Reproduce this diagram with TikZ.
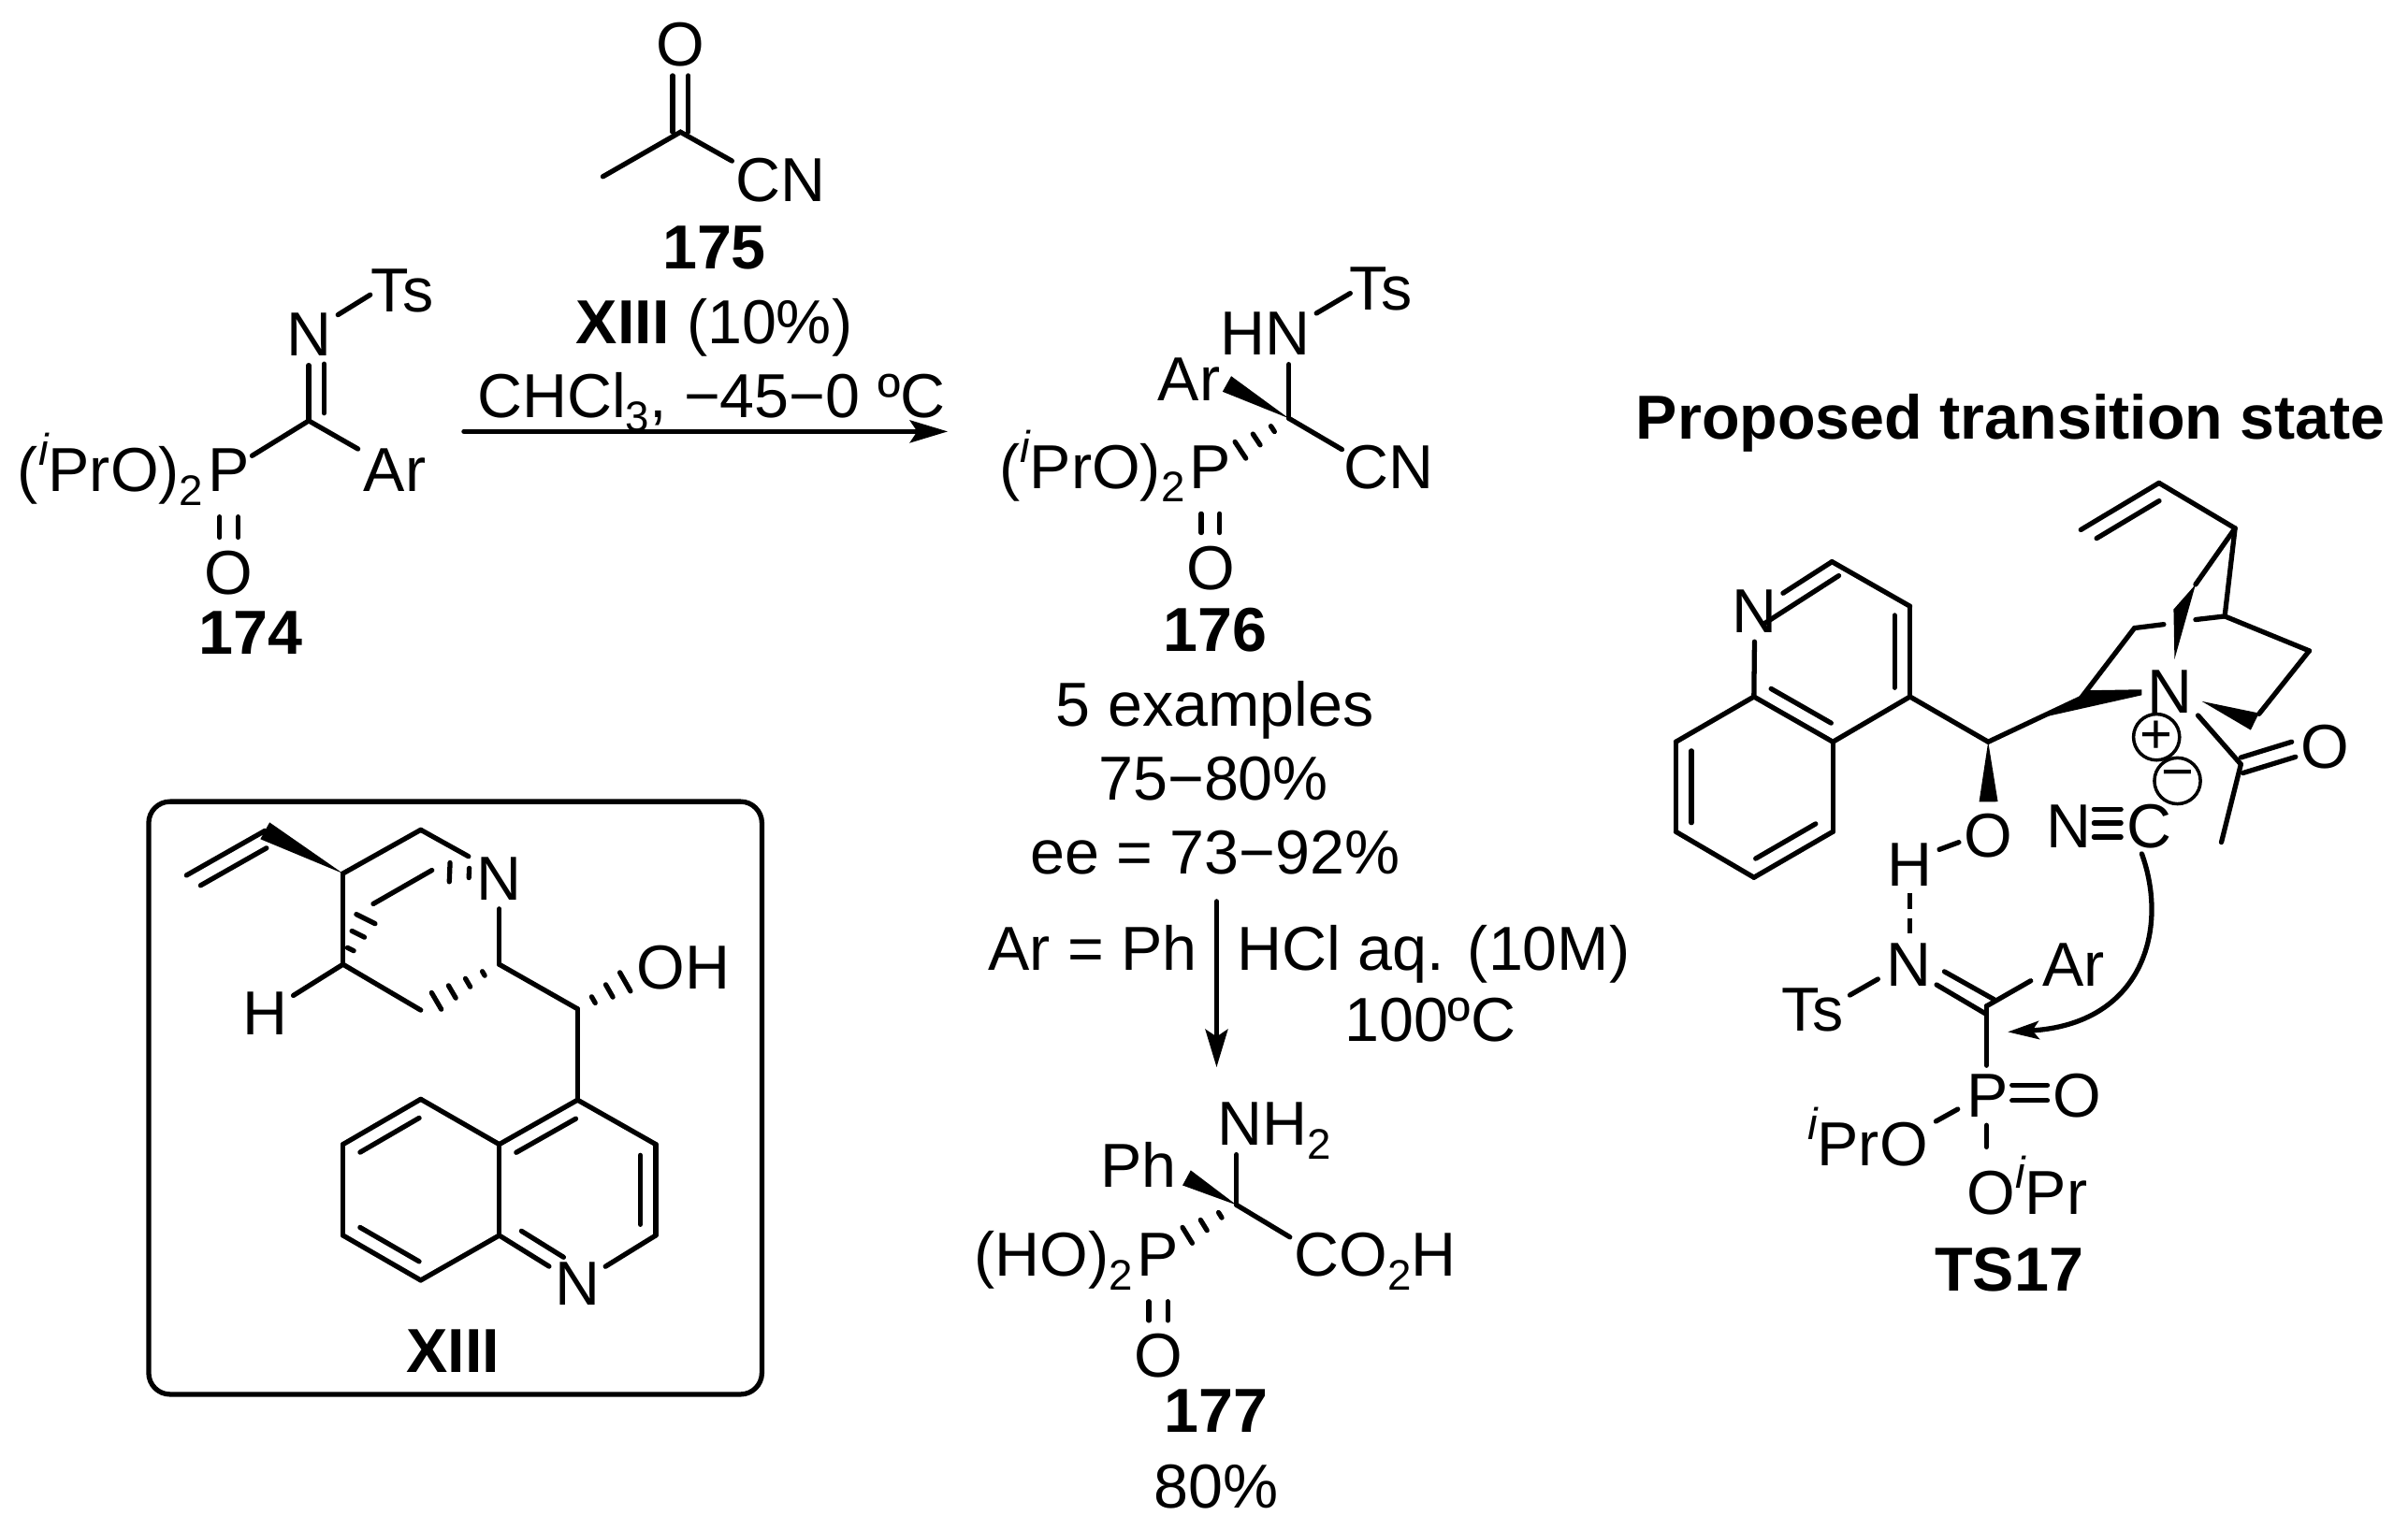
\documentclass[tikz,border=0pt]{standalone}
\usepackage{fontspec}
\setmainfont{Liberation Sans}
\usetikzlibrary{arrows.meta,calc}
\newcommand{\chemsize}{\fontsize{18.9}{22}\selectfont}
\newcommand{\ipr}{\smash{\raisebox{.42em}{\fontsize{13.5}{14}\selectfont\itshape i}}}
\newcommand{\sbs}[1]{\smash{\raisebox{-.22em}{\fontsize{13}{14}\selectfont #1}}}
% narrow end, wide end, full width
\newcommand{\wedgebond}[3]{\fill (#1) -- ($(#2)!#3/2!90:(#1)$) -- ($(#2)!#3/2!-90:(#1)$) -- cycle;}
% narrow end, wide end, number of marks, full width in pt
\newcommand{\hashbond}[4]{
  \foreach \k in {1,...,#3}{
    \pgfmathsetmacro\t{\k/(#3+1)}
    \pgfmathsetmacro\w{\t*#4/2}
    \coordinate (hm) at ($(#1)!\t!(#2)$);
    \draw ($(hm)!\w pt!90:(#2)$) -- ($(hm)!\w pt!-90:(#2)$);
  }}
% second line of a double bond: ends, offset, part cut off at each end
\newcommand{\innerbond}[4]{\draw ($(#1)!#4!(#2)!#3!90:(#2)$) -- ($(#2)!#4!(#1)!#3!-90:(#1)$);}
\tikzset{
  atom/.style={anchor=base,inner xsep=1pt,inner ysep=2pt},
  patom/.style={anchor=base,inner xsep=0pt,inner ysep=2pt},
  txt/.style={anchor=base,inner sep=0pt},
  pre/.style={anchor=base east,inner sep=0pt},
  cmpd/.style={anchor=base,inner sep=0pt,font=\chemsize\bfseries},
  pbond/.style={shorten <=5pt,shorten >=1.4pt},
  rxn/.style={-{Stealth[length=11.5pt,width=6.8pt,inset=2.2pt]}},
  push/.style={-{Stealth[length=9.5pt,width=5.5pt,inset=2pt]}},
  hbond/.style={dash pattern=on 4.8pt off 2.8pt,line cap=butt},
  charge/.style={circle,draw,line width=1pt,minimum size=14pt,inner sep=0pt,font=\fontsize{17}{18}\selectfont}
}
\begin{document}
\begin{tikzpicture}[x=0.01642cm,y=-0.01642cm,line width=1.5pt,line cap=round,every node/.style={font=\chemsize}]
\useasboundingbox (0,0) rectangle (1567.6,996.3);

% 175
\coordinate (me175) at (392.5,115);
\coordinate (c175) at (443,86);
\coordinate (e175) at (476.5,104.8);
\node[atom] (o175) at (443,43) {O};
\node[txt] (cn175) at (508,131) {CN};
\draw (me175) -- (c175) -- (e175);
\draw ([xshift=-2.4pt]c175) -- ([xshift=-2.4pt]o175.south);
\draw ([xshift=2.4pt]c175) -- ([xshift=2.4pt]o175.south);
\node[cmpd] (l175) at (465,175) {175};
\node[txt] (cat175) at (465,224) {\textbf{XIII} (10\%)};
\node[txt] (cond175) at (463,272) {CHCl\sbs{3}, −45−0 ºC};
\coordinate (a1s) at (302,281);
\coordinate (a1e) at (617,281);
\draw[rxn] (a1s) -- (a1e);

% 174
\coordinate (c174) at (201,274);
\coordinate (n174a) at (211,237);
\coordinate (n174b) at (211,269);
\coordinate (t174a) at (220,205);
\coordinate (t174b) at (241,192);
\node[atom] (n174) at (201,232) {N};
\node[txt] (ts174) at (262,203) {Ts};
\node[atom] (ar174) at (257,320) {Ar};
\node[patom] (p174) at (149,320) {P};
\node[pre] (pre174) at (p174.base west) {(\ipr PrO)\sbs{2}};
\node[atom] (o174) at (149,387) {O};
\draw (c174) -- (n174);
\draw (n174a) -- (n174b);
\draw (t174a) -- (t174b);
\draw (c174) -- (p174);
\draw (c174) -- (ar174);
\draw[pbond] ([xshift=-2.8pt]p174.south) -- ([xshift=-2.8pt]o174.north);
\draw[pbond] ([xshift=2.8pt]p174.south) -- ([xshift=2.8pt]o174.north);
\node[cmpd] (l174) at (163,426) {174};

% 176
\coordinate (c176) at (839,272.4);
\coordinate (w176) at (798.7,250);
\coordinate (h176) at (797,300);
\coordinate (e176) at (873.6,292.7);
\coordinate (t176a) at (857,204);
\coordinate (t176b) at (879,191);
\node[atom] (hn176) at (823.7,231.4) {HN};
\node[txt] (ts176) at (899,202) {Ts};
\node[txt] (ar176) at (774,261) {Ar};
\node[txt] (cn176) at (904,318) {CN};
\node[patom] (p176) at (788,318) {P};
\node[pre] (pre176) at (p176.base west) {(\ipr PrO)\sbs{2}};
\node[atom] (o176) at (788,384) {O};
\draw (c176) -- (c176 |- hn176.south);
\draw (t176a) -- (t176b);
\draw (c176) -- (e176);
\wedgebond{c176}{w176}{5.4pt}
\hashbond{c176}{h176}{3}{8}
\draw[pbond] ([xshift=-2.8pt]p176.south) -- ([xshift=-2.8pt]o176.north);
\draw[pbond] ([xshift=2.8pt]p176.south) -- ([xshift=2.8pt]o176.north);
\node[cmpd] (l176) at (791,424) {176};
\node[txt] (ex176) at (791,473) {5 examples};
\node[txt] (yd176) at (790,521) {75−80\%};
\node[txt] (ee176) at (791,569) {ee = 73−92\%};

% 176 to 177
\coordinate (a2s) at (792,587);
\coordinate (a2e) at (792,695);
\draw[rxn] (a2s) -- (a2e);
\node[txt,anchor=base east] (arph) at (781,632) {Ar = Ph};
\node[txt,anchor=base west] (hcl) at (804,632) {HCl aq. (10M)};
\node[txt] (temp) at (931,678) {100ºC};

% 177
\coordinate (c177) at (805,784.7);
\coordinate (w177) at (772.5,767);
\coordinate (h177) at (762.3,811);
\coordinate (e177) at (839.7,805.6);
\node[atom,anchor=base west] (nh177) at (789,746) {NH\sbs{2}};
\node[txt] (ph177) at (741,773) {Ph};
\node[txt,anchor=base west] (co177) at (841,831) {CO\sbs{2}H};
\node[patom] (p177) at (754,831) {P};
\node[pre] (pre177) at (p177.base west) {(HO)\sbs{2}};
\node[atom] (o177) at (754,897) {O};
\draw (c177) -- (c177 |- nh177.south);
\draw (c177) -- (e177);
\wedgebond{c177}{w177}{5.2pt}
\hashbond{c177}{h177}{3}{7.5}
\draw[pbond] ([xshift=-2.9pt]p177.south) -- ([xshift=-2.9pt]o177.north);
\draw[pbond] ([xshift=2.9pt]p177.south) -- ([xshift=2.9pt]o177.north);
\node[cmpd] (l177) at (791.5,933) {177};
\node[txt] (yd177) at (791.5,982) {80\%};

% XIII
\draw[rounded corners=6.5pt] (96.8,522) rectangle (496,908);
\foreach \nm/\xx/\yy in {v1/121.4/570,v2/172.5/541,c4/223.3/568.8,c3/223.3/628,
  top/273.9/540.4,topn/305/557.7,bk1/243/588.6,bk2/281.2/566.7,
  low/273.9/657.8,c8/325/628,c9/376/657,
  q4/376/716.3,q3/426.9/745.2,q2/426.9/804.5,q8a/325/804.5,q4a/325/745.2,
  q5/273.9/715.8,q6/223.3/745.2,q7/223.3/804.5,q8/273.9/833.7,
  hend/417.3/633.5,hc1/318/569,hc2/280.1/567.5}
  \coordinate (\nm) at (\xx,\yy);
\node[atom] (n13) at (325,586) {N};
\node[atom] (n13q) at (375.8,850) {N};
\node[atom] (h13) at (172.6,673.7) {H};
\node[txt,anchor=base west] (oh13) at (413,644) {OH};
\draw (v1) -- (v2);
\innerbond{v1}{v2}{-4.8pt}{.08}
\wedgebond{c4}{v2}{5.8pt}
\foreach \a/\b in {c4/c3,c4/top,top/topn,bk1/bk2,c3/low,c8/c9,c9/q4,q4/q3,q3/q2,q8a/q4a,q4a/q4,q4a/q5,q5/q6,q6/q7,q7/q8,q8/q8a}
  \draw (\a) -- (\b);
\draw (c3) -- (h13);
\draw (c8) -- (n13);
\draw (q2) -- (n13q);
\draw (q8a) -- (n13q);
\hashbond{c3}{bk1}{3}{8.5}
\hashbond{hc1}{hc2}{2}{8.7}
\hashbond{c8}{low}{4}{7.3}
\hashbond{c9}{hend}{3}{8.7}
\innerbond{q4a}{q4}{-4.7pt}{.12}
\innerbond{q3}{q2}{-4.7pt}{.12}
\innerbond{q5}{q6}{4.7pt}{.12}
\innerbond{q7}{q8}{4.7pt}{.12}
\draw ($(q8a)!.18!(n13q)!4.7pt!90:(n13q)$) -- ($(q8a)!.72!(n13q)!4.7pt!90:(n13q)$);
\node[cmpd] (l13) at (295,894) {XIII};

% TS17
\node[cmpd] (title) at (1309,286) {Proposed transition state};
\foreach \nm/\xx/\yy in {t2/1192.6/365.8,t3/1243.4/394.8,t4/1243.4/453.7,t4a/1193.2/483.1,
  t8a/1141.8/453.7,t8/1091/483.1,t7/1091/541.6,t6/1141.8/571.4,t5/1193.2/541.6,
  t9/1294.3/483.1,tc8/1354.6/454.7,tc7/1389.5/409,tc7b/1408.6/406.6,
  tc4a/1429.3/403.5,tc4/1448.3/401.3,tc5/1503.3/423.8,tc6/1470.6/464.9,
  tc3/1455/344,tv2/1405.5/314.5,tv1/1354.6/345,tbr/1429.3/380.6,
  tac/1458.8/497.7,tme/1446.1/548.5,nac/1430.9/465.9}
  \coordinate (\nm) at (\xx,\yy);
\node[atom] (tn1) at (1142.4,412) {N};
\foreach \a/\b in {t2/t3,t3/t4,t4/t4a,t4a/t8a,t8a/t8,t8/t7,t7/t6,t6/t5,t5/t4a,t4/t9,t9/tc8,tc8/tc7,tc7/tc7b,tc4a/tc4,tc4/tc5,tc5/tc6,tc3/tv2,tv2/tv1,tc3/tc4,tc3/tbr,nac/tac,tac/tme}
  \draw (\a) -- (\b);
\draw (t2) -- (tn1);
\draw (t8a) -- (tn1);
\innerbond{t2}{tn1}{4.7pt}{.02}
\innerbond{t3}{t4}{-4.7pt}{.1}
\innerbond{t8a}{t4a}{4.7pt}{.12}
\innerbond{t8}{t7}{4.7pt}{.1}
\innerbond{t6}{t5}{4.7pt}{.12}
\innerbond{tv2}{tv1}{4.7pt}{.1}
% wedges of the cage
\fill (1330.8,466.9) -- (1394.3,452.7) -- (1394.3,449) -- (1359.4,449.6) -- (1354.6,454.7) -- cycle;
\fill (1415.6,429.3) -- (1429.3,380.6) -- (1415,396.8) -- cycle;
\fill (1433.4,456.7) -- (1470.6,464.4) -- (1465.2,475.4) -- cycle;
\node[atom] (tn2) at (1412.8,464.2) {N};
\node[charge] (tplus) at (1403.9,480) {+};
\node[charge] (tminus) at (1417.5,508.5) {−};
\coordinate (co1a) at (1458.8,493.3);
\coordinate (co1b) at (1491.9,483.1);
\coordinate (co2a) at (1460.1,503.4);
\coordinate (co2b) at (1494.4,492.9);
\draw (co1a) -- (co1b);
\draw (co2a) -- (co2b);
\node[txt] (to2) at (1513.4,500) {O};
% cyanide
\node[txt] (tcnn) at (1346.7,552) {N};
\node[txt] (tcnc) at (1399,552) {C};
\foreach \yy in {527,536,545}{
  \coordinate (tr1) at (1363.2,\yy);
  \coordinate (tr2) at (1380.7,\yy);
  \draw (tr1) -- (tr2);
}
% alcohol and imine
\coordinate (wo) at (1294.5,522.1);
\wedgebond{t9}{wo}{5.7pt}
\node[txt] (to1) at (1294.3,558) {O};
\node[atom] (th) at (1243.4,577) {H};
\coordinate (ho1) at (1262.5,553.2);
\coordinate (ho2) at (1275.2,548.5);
\draw (ho1) -- (ho2);
\node[atom] (tn3) at (1242.6,642.3) {N};
\coordinate (hd1) at (1243.4,581.7);
\coordinate (hd2) at (1243.4,608);
\draw[hbond] (hd1) -- (hd2);
\node[txt] (tts) at (1180,671.5) {Ts};
\coordinate (ts1) at (1204.3,648);
\coordinate (ts2) at (1222.5,637.6);
\draw (ts1) -- (ts2);
\coordinate (tcc) at (1293.2,655.2);
\coordinate (dn1a) at (1260.7,641.3);
\coordinate (dn1b) at (1293.2,660.5);
\coordinate (dn2a) at (1265.8,632.7);
\coordinate (dn2b) at (1298.2,650.9);
\draw (dn1a) -- (dn1b);
\draw (dn2a) -- (dn2b);
\coordinate (tar1) at (1322,638.7);
\draw (tcc) -- (tar1);
\node[txt] (tar) at (1350,642.3) {Ar};
\coordinate (tp1) at (1293.2,693.8);
\draw (tcc) -- (tp1);
% phosphonate
\node[txt] (tp) at (1294,727.3) {P};
\coordinate (po1a) at (1309.8,706.6);
\coordinate (po1b) at (1332.8,706.6);
\coordinate (po2a) at (1309.8,716.7);
\coordinate (po2b) at (1332.8,716.7);
\draw (po1a) -- (po1b);
\draw (po2a) -- (po2b);
\node[txt] (tpo) at (1352,727.5) {O};
\coordinate (pl1) at (1274.5,722.3);
\coordinate (pl2) at (1260.3,730.2);
\draw (pl1) -- (pl2);
\node[txt,anchor=base east] (tpl) at (1256.6,759) {\ipr PrO};
\coordinate (pd1) at (1293.2,732.8);
\coordinate (pd2) at (1293.2,746.9);
\draw (pd1) -- (pd2);
\node[txt,anchor=base west] (tpd) at (1279,791) {O\ipr Pr};
\node[cmpd] (lts) at (1308,841) {TS17};
\coordinate (pa1) at (1394.3,556);
\coordinate (pa2) at (1307,672);
\draw[push] (pa1) .. controls (1412,605) and (1395,667) .. (pa2);
\end{tikzpicture}
\end{document}
